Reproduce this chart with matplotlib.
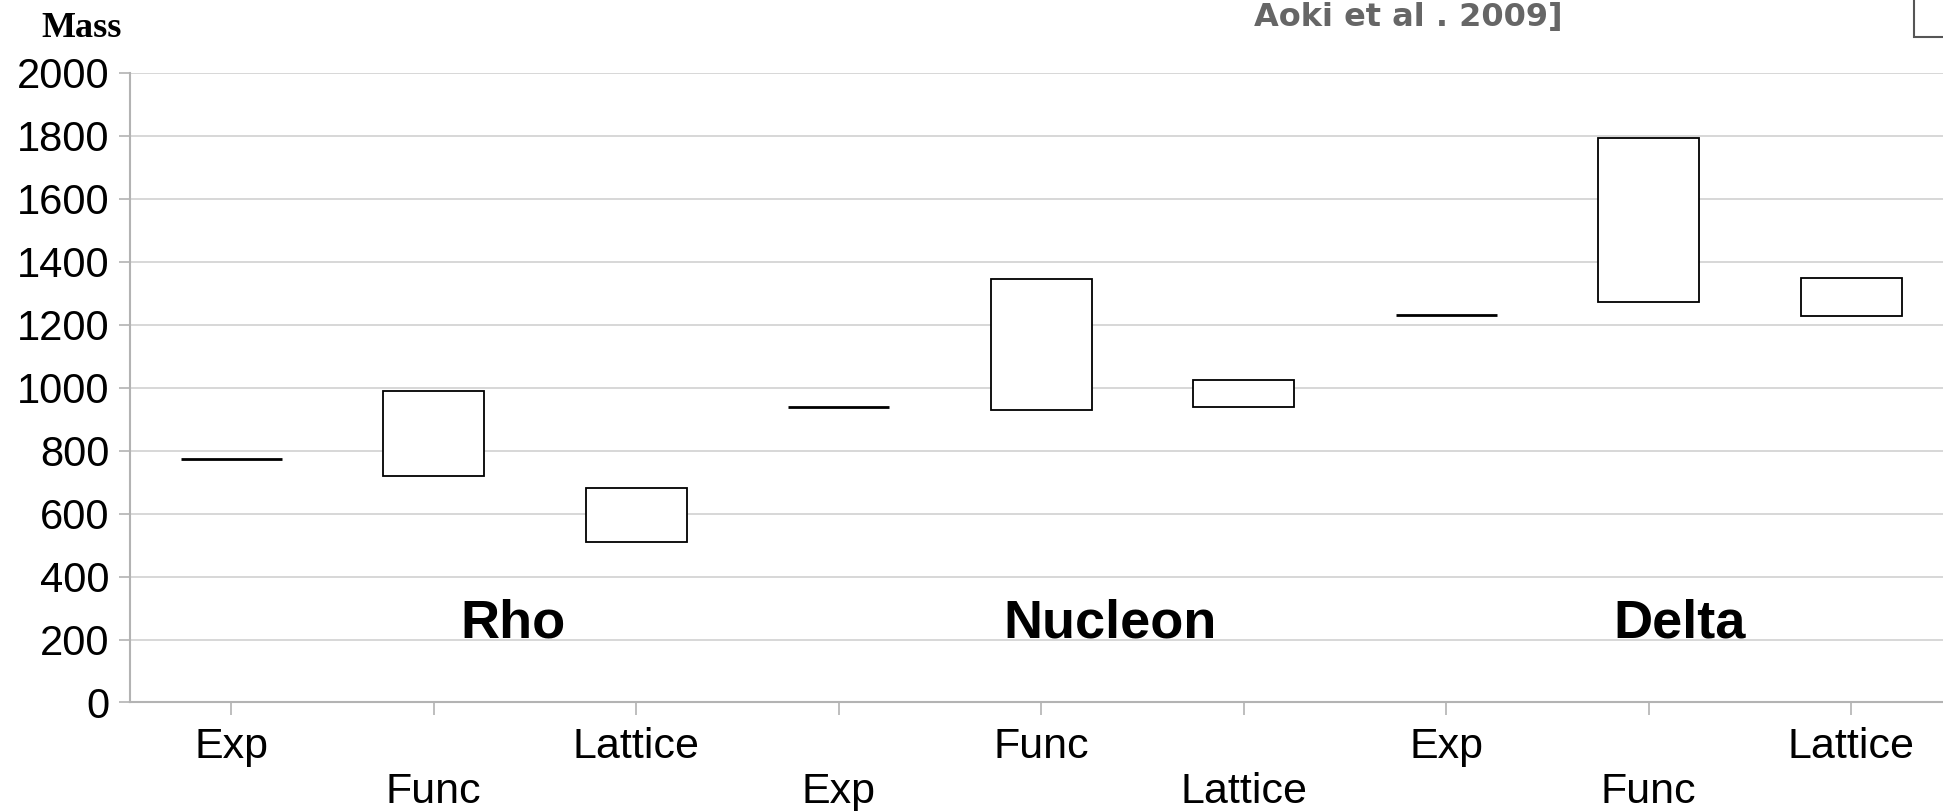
import matplotlib
matplotlib.use('Agg')
import matplotlib.pyplot as plt
from matplotlib.patches import Rectangle
import numpy as np

# hadron masses: experiment, functional method, lattice [Aoki et al. 2009]
tick_labels = ['Exp', 'Func', 'Lattice', 'Exp', 'Func', 'Lattice', 'Exp', 'Func', 'Lattice']
low = [775, 721, 511, 939, 930, 938, 1232, 1273, 1229]
high = [775, 990, 682, 939, 1345, 1026, 1232, 1792, 1348]
groups = ['Rho', 'Nucleon', 'Delta']
group_x = [1.39, 4.34, 7.15]
group_y = 205
yticks = list(range(0, 2001, 200))

plt.rcParams['font.family'] = ['Liberation Sans', 'DejaVu Sans']

fig = plt.figure(figsize=(19.43, 8.11), dpi=100)
ax = fig.add_axes([0.0669, 0.1338, 0.938, 0.7762])

x = np.arange(len(tick_labels))
low = np.array(low)
high = np.array(high)
is_exp = np.array([t == 'Exp' for t in tick_labels])

# ranges drawn as open boxes, experimental values as single lines
ax.bar(x[~is_exp], (high - low)[~is_exp], bottom=low[~is_exp], width=0.5,
       facecolor='white', edgecolor='black', linewidth=1.3, zorder=3)
ax.hlines(low[is_exp], x[is_exp] - 0.25, x[is_exp] + 0.25, color='black', linewidth=2, zorder=3)

for name, gx in zip(groups, group_x):
    ax.text(gx, group_y, name, ha='center', va='baseline', fontsize=39, fontweight='bold', zorder=4)

ax.set_xlim(-0.5, len(tick_labels) - 0.5)
ax.set_ylim(0, 2000)
ax.set_yticks(yticks)
ax.set_yticklabels([str(v) for v in yticks], fontsize=30)
ax.set_xticks(x)
ax.set_xticklabels([t if i % 2 == 0 else '\n' + t for i, t in enumerate(tick_labels)], fontsize=31)
for lab in ax.get_xticklabels():
    lab.set_linespacing(1.18)

ax.yaxis.grid(True, color='#d4d4d4', linewidth=1.3)
ax.set_axisbelow(True)
for s in ['top', 'right']:
    ax.spines[s].set_visible(False)
for s in ['left', 'bottom']:
    ax.spines[s].set_color('#b3b3b3')
    ax.spines[s].set_linewidth(1.5)
ax.tick_params(axis='y', length=8, width=1.2, color='#b3b3b3', pad=7)
ax.tick_params(axis='x', length=9, width=1.2, color='#b3b3b3', pad=8.5)

fig.text(41.7 / 1943, 1 - 36.7 / 811, 'Mass', family='Liberation Serif', fontweight='bold',
         fontsize=26, va='baseline', ha='left')
fig.text(1254 / 1943, 1 - 26 / 811, 'Aoki et al . 2009]', family='DejaVu Sans', fontweight='bold',
         fontsize=23, color='#666666', va='baseline', ha='left')
fig.add_artist(Rectangle((1914 / 1943, 1 - 37 / 811), 0.05, 0.1, transform=fig.transFigure,
                         facecolor='white', edgecolor='#555555', linewidth=1.5))

fig.savefig('out.png', dpi=100)
